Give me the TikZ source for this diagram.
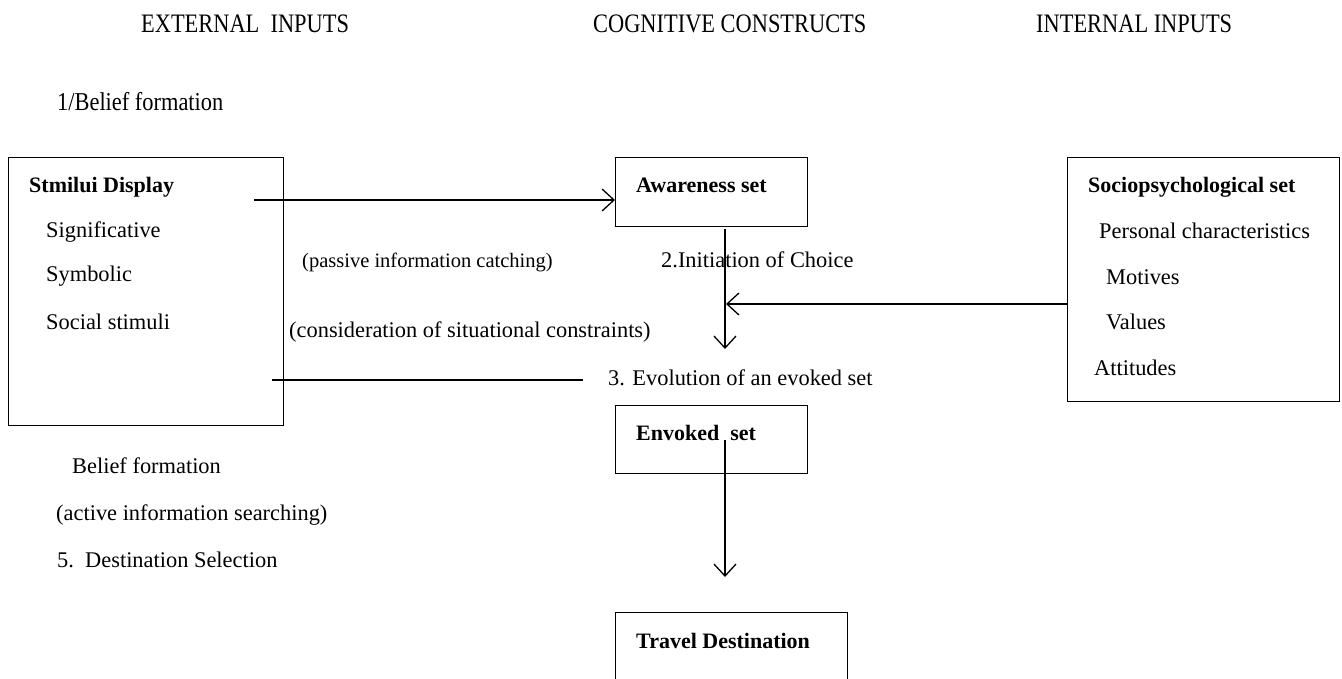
\documentclass[tikz,border=0pt]{standalone}
\usepackage{fontspec}
\usepackage{graphicx}
\setmainfont{Liberation Serif}
\usetikzlibrary{arrows.meta}
\begin{document}
\begin{tikzpicture}[x=1pt,y=-1pt,
  box/.style={draw, line width=1.4pt, inner sep=0pt, anchor=north west},
  txt/.style={anchor=base west, inner sep=0pt, font=\fontsize{22.4}{26}\selectfont},
  stxt/.style={anchor=base west, inner sep=0pt, font=\fontsize{20.5}{24}\selectfont},
  btxt/.style={anchor=base west, inner sep=0pt, font=\fontsize{22}{26}\selectfont\bfseries},
  conn/.style={line width=1.3pt},
  arr/.style={conn, -{Straight Barb[length=12pt,width=22pt]}}]
\clip (0,0) rectangle (1342,679);
\fill[white] (0,0) rectangle (1342,679);
% headers
\node[txt] (h1) at (141,33) {\scalebox{1}[1.19]{EXTERNAL\ \ INPUTS}};
\node[txt] (h2) at (593,33) {\scalebox{1}[1.19]{COGNITIVE CONSTRUCTS}};
\node[txt] (h3) at (1036,33) {\scalebox{1}[1.19]{INTERNAL INPUTS}};
\node[txt] (bf1) at (57,111) {\scalebox{1}[1.15]{1/Belief formation}};
% boxes
\node[box, minimum width=275pt, minimum height=268pt] (stim) at (8,157) {};
\node[box, minimum width=192pt, minimum height=69pt] (aw) at (615,157) {};
\node[box, minimum width=272pt, minimum height=244pt] (soc) at (1067,157) {};
\node[box, minimum width=192pt, minimum height=68pt] (env) at (615,405) {};
\node[box, minimum width=232pt, minimum height=100pt] (trav) at (615,612) {};
% box texts
\node[btxt] (t1) at (29,193) {Stmilui Display};
\node[txt] (t2) at (46,238) {Significative};
\node[txt] (t3) at (46,282) {Symbolic};
\node[txt] (t4) at (46,329) {Social stimuli};
\node[btxt] (t5) at (636,193) {Awareness set};
\node[btxt] (t6) at (1088,193) {Sociopsychological set};
\node[txt] (t7) at (1099,239) {Personal characteristics};
\node[txt] (t8) at (1106,284) {Motives};
\node[txt] (t9) at (1106,329) {Values};
\node[txt] (t10) at (1094,375) {Attitudes};
\node[btxt] (t11) at (636,440) {Envoked\ \ set};
\node[btxt] (t12) at (636,648) {Travel Destination};
% free labels
\node[stxt] (l1) at (302,268) {(passive information catching)};
\node[txt] (l2) at (661,268) {2.Initiation of Choice};
\node[txt] (l3) at (289,337) {(consideration of situational constraints)};
\node[txt] (l4) at (608,385) {3. Evolution of an evoked set};
\node[txt] (l5) at (72,473) {Belief formation};
\node[txt] (l6) at (56,520) {(active information searching)};
\node[txt] (l7) at (57,567) {5.\ \ Destination Selection};
% connectors
\coordinate (a1) at (254,200);
\draw[arr] (a1) -- (aw.west |- a1);
\coordinate (v1s) at (725,229);
\coordinate (v1e) at (725,349);
\draw[arr] (v1s) -- (v1e);
\coordinate (j) at (726,304);
\draw[arr] (soc.west |- j) -- (j);
\coordinate (ls) at (272,380);
\coordinate (le) at (583,380);
\draw[conn] (ls) -- (le);
\coordinate (v2s) at (725,440);
\coordinate (v2e) at (725,577);
\draw[arr] (v2s) -- (v2e);
\end{tikzpicture}
\end{document}
